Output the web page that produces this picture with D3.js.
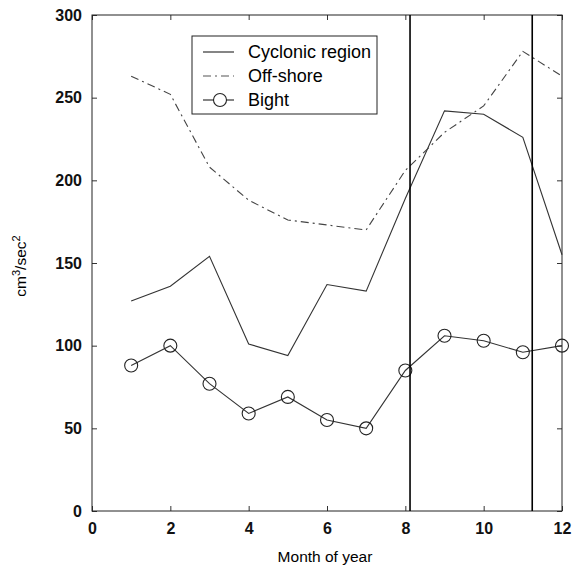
<!DOCTYPE html>
<html>
<head>
<meta charset="utf-8">
<script src="https://cdn.jsdelivr.net/npm/d3@7"></script>
<style>
  body { margin: 0; background: #fff; }
  text { font-family: "Liberation Sans", Arial, sans-serif; }
</style>
</head>
<body>
<div id="chart"></div>
<script>
// monthly values
var months = [1, 2, 3, 4, 5, 6, 7, 8, 9, 10, 11, 12];
var cyclonic = [127, 136, 154, 101, 94, 137, 133, 189, 242, 240, 226, 155];
var offshore = [263, 252, 208, 188, 176, 173, 170, 206, 229, 245, 278, 263];
var bight = [88, 100, 77, 59, 69, 55, 50, 85, 106, 103, 96, 100];
var markers = [8.12, 11.24];   // vertical reference lines
var xTicks = [0, 2, 4, 6, 8, 10, 12];
var yTicks = [0, 50, 100, 150, 200, 250, 300];
var legendNames = ["Cyclonic region", "Off-shore", "Bight"];

var W = 573, H = 571;
var m = {left: 92, right: 11, top: 15, bottom: 60};

var svg = d3.select("#chart").append("svg")
  .attr("width", W)
  .attr("height", H);

var x = d3.scaleLinear().domain([0, 12]).range([m.left, W - m.right]);
var y = d3.scaleLinear().domain([0, 300]).range([H - m.bottom, m.top]);

// axes, ticks pointing inward, mirrored on top/right
svg.append("g")
  .attr("transform", "translate(0," + y(0) + ")")
  .call(d3.axisBottom(x).tickValues(xTicks).tickSize(-5).tickPadding(12))
  .call(g => g.select(".domain").remove());
svg.append("g")
  .attr("transform", "translate(" + x(0) + ",0)")
  .call(d3.axisLeft(y).tickValues(yTicks).tickSize(-5).tickPadding(10))
  .call(g => g.select(".domain").remove());
svg.append("g")
  .attr("transform", "translate(0," + y(300) + ")")
  .call(d3.axisTop(x).tickValues(xTicks).tickSize(-5).tickFormat(""))
  .call(g => g.select(".domain").remove());
svg.append("g")
  .attr("transform", "translate(" + x(12) + ",0)")
  .call(d3.axisRight(y).tickValues(yTicks).tickSize(-5).tickFormat(""))
  .call(g => g.select(".domain").remove());

svg.selectAll(".tick text")
  .style("font-size", "16px")
  .style("font-weight", "bold")
  .style("fill", "#111");
svg.selectAll(".tick line").attr("stroke", "#333");

svg.append("rect")
  .attr("x", x(0)).attr("y", y(300))
  .attr("width", x(12) - x(0)).attr("height", y(0) - y(300))
  .attr("fill", "none").attr("stroke", "#222").attr("stroke-width", 1);

var line = d3.line()
  .x((d, i) => x(months[i]))
  .y(d => y(d));

svg.append("path").datum(cyclonic)
  .attr("d", line).attr("fill", "none")
  .attr("stroke", "#333").attr("stroke-width", 1.1);

svg.append("path").datum(offshore)
  .attr("d", line).attr("fill", "none")
  .attr("stroke", "#444").attr("stroke-width", 1.1)
  .attr("stroke-dasharray", "8,4,2,4");

svg.append("path").datum(bight)
  .attr("d", line).attr("fill", "none")
  .attr("stroke", "#333").attr("stroke-width", 1.1);

svg.append("g").selectAll("circle")
  .data(bight)
  .enter().append("circle")
  .attr("cx", (d, i) => x(months[i]))
  .attr("cy", d => y(d))
  .attr("r", 6.5)
  .attr("fill", "none")
  .attr("stroke", "#222")
  .attr("stroke-width", 1.1);

// vertical reference lines
svg.selectAll(".vline")
  .data(markers)
  .enter().append("line")
  .attr("class", "vline")
  .attr("x1", d => x(d)).attr("x2", d => x(d))
  .attr("y1", y(300)).attr("y2", y(0))
  .attr("stroke", "#000").attr("stroke-width", 1.6);

// legend
var lg = svg.append("g").attr("transform", "translate(192,36)");
lg.append("rect")
  .attr("width", 185).attr("height", 78)
  .attr("fill", "#fff").attr("stroke", "#222");
var rows = lg.selectAll(".row")
  .data(legendNames)
  .enter().append("g")
  .attr("transform", (d, i) => "translate(0," + (16 + i * 24) + ")");
rows.append("line")
  .attr("x1", 11).attr("x2", 42)
  .attr("stroke", (d, i) => i == 1 ? "#555" : "#222")
  .attr("stroke-width", 1.1)
  .attr("stroke-dasharray", (d, i) => i == 1 ? "8,4,2,4" : null);
rows.filter((d, i) => i == 2).append("circle")
  .attr("cx", 28).attr("r", 6.5)
  .attr("fill", "#fff").attr("stroke", "#222").attr("stroke-width", 1.1);
rows.append("text")
  .attr("x", 56).attr("y", 6)
  .style("font-size", "18px")
  .text(d => d);

// axis titles
svg.append("text")
  .attr("x", (x(0) + x(12)) / 2 - 2).attr("y", 562)
  .attr("text-anchor", "middle")
  .style("font-size", "15.5px")
  .text("Month of year");

var yl = svg.append("text")
  .attr("transform", "translate(26," + (y(150) + 3) + ") rotate(-90)")
  .attr("text-anchor", "middle")
  .style("font-size", "15.5px");
yl.append("tspan").text("cm");
yl.append("tspan").attr("dy", -6).style("font-size", "11px").text("3");
yl.append("tspan").attr("dy", 6).text("/sec");
yl.append("tspan").attr("dy", -6).style("font-size", "11px").text("2");
</script>
</body>
</html>
